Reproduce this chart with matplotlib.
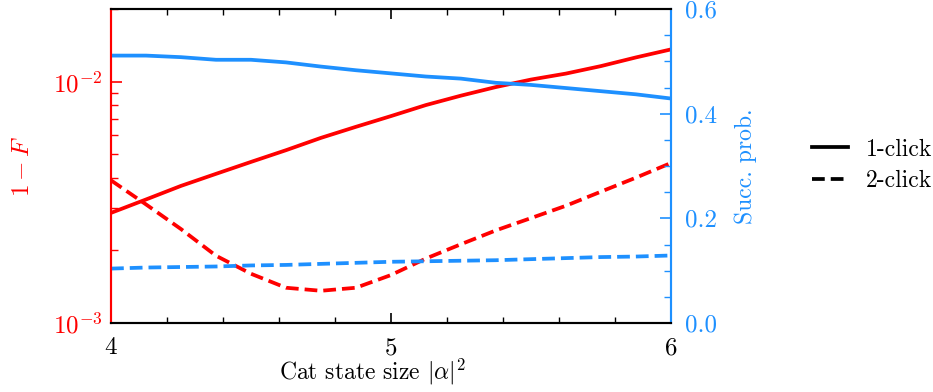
import matplotlib
matplotlib.use('Agg')
import matplotlib.pyplot as plt
from matplotlib.lines import Line2D
from matplotlib.ticker import MultipleLocator, LogLocator, NullFormatter

plt.rcParams['font.family'] = 'serif'
plt.rcParams['font.serif'] = ['cmr10']
plt.rcParams['mathtext.fontset'] = 'cm'
plt.rcParams['axes.unicode_minus'] = False
plt.rcParams['axes.formatter.use_mathtext'] = True

RED = '#ff0000'
BLUE = '#1e90ff'

# Cat state size |alpha|^2
alpha_sq = [4.0, 4.125, 4.25, 4.375, 4.5, 4.625, 4.75, 4.875, 5.0,
            5.125, 5.25, 5.375, 5.5, 5.625, 5.75, 5.875, 6.0]

# infidelity 1-F
infid_1click = [2.86e-3, 3.25e-3, 3.7e-3, 4.15e-3, 4.65e-3, 5.2e-3, 5.85e-3, 6.5e-3, 7.2e-3,
                8.0e-3, 8.75e-3, 9.5e-3, 1.02e-2, 1.08e-2, 1.16e-2, 1.26e-2, 1.36e-2]
infid_2click = [3.9e-3, 3.1e-3, 2.45e-3, 1.9e-3, 1.6e-3, 1.4e-3, 1.36e-3, 1.40e-3, 1.58e-3,
                1.85e-3, 2.12e-3, 2.42e-3, 2.72e-3, 3.06e-3, 3.5e-3, 4.0e-3, 4.6e-3]

# success probability
succ_1click = [0.511, 0.511, 0.508, 0.503, 0.503, 0.498, 0.490, 0.483, 0.477,
               0.471, 0.467, 0.459, 0.455, 0.449, 0.443, 0.437, 0.429]
succ_2click = [0.104, 0.106, 0.107, 0.108, 0.110, 0.111, 0.113, 0.115, 0.117,
               0.118, 0.119, 0.120, 0.122, 0.124, 0.126, 0.127, 0.129]

fig = plt.figure(figsize=(9.33, 3.92), dpi=100)
ax = fig.add_axes([0.119, 0.176, 0.600, 0.801])
ax2 = ax.twinx()

lw = 2.7
dash = (0, (3.4, 1.6))
ax.plot(alpha_sq, infid_1click, color=RED, lw=lw)
ax.plot(alpha_sq, infid_2click, color=RED, lw=lw, ls=dash)
ax2.plot(alpha_sq, succ_1click, color=BLUE, lw=lw)
ax2.plot(alpha_sq, succ_2click, color=BLUE, lw=lw, ls=dash)

ax.set_yscale('log')
ax.set_xlim(4, 6)
ax.set_ylim(1e-3, 2e-2)
ax2.set_ylim(0, 0.6)

ax.xaxis.set_major_locator(MultipleLocator(1))
ax.xaxis.set_minor_locator(MultipleLocator(0.2))
ax.yaxis.set_major_locator(LogLocator(base=10, numticks=10))
ax.yaxis.set_minor_locator(LogLocator(base=10, subs=range(2, 10), numticks=10))
ax.yaxis.set_minor_formatter(NullFormatter())
ax2.yaxis.set_major_locator(MultipleLocator(0.2))
ax2.yaxis.set_minor_locator(MultipleLocator(0.05))
ax2.yaxis.set_major_formatter(plt.FormatStrFormatter('%.1f'))

ax.tick_params(axis='x', which='both', direction='in', top=True, labelsize=18, pad=10)
ax.tick_params(axis='x', which='major', length=7, width=1.2)
ax.tick_params(axis='x', which='minor', length=4, width=1.0)
ax.tick_params(axis='y', which='both', direction='in', colors=RED, labelsize=18, right=False, pad=6)
ax.tick_params(axis='y', which='major', length=8, width=1.2)
ax.tick_params(axis='y', which='minor', length=5, width=1.0)
ax2.tick_params(axis='y', which='both', direction='in', colors=BLUE, labelsize=18, pad=10)
ax2.tick_params(axis='y', which='major', length=8, width=1.2)
ax2.tick_params(axis='y', which='minor', length=5, width=1.0)

for a in (ax, ax2):
    for s in a.spines.values():
        s.set_linewidth(1.5)
ax2.spines['left'].set_color(RED)
ax2.spines['right'].set_color(BLUE)
ax.spines['left'].set_color(RED)
ax.spines['right'].set_color(BLUE)

ax.set_xlabel(r'Cat state size $|\alpha|^2$', fontsize=17)
ax.xaxis.set_label_coords(0.468, -0.108, transform=ax.transAxes)
ax.xaxis.label.set_va('top')
ax.set_ylabel(r'$1-F$', color=RED, fontsize=18, labelpad=14)
ax2.set_ylabel('Succ. prob.', color=BLUE, fontsize=17, labelpad=13)

handles = [Line2D([], [], color='black', lw=lw, label='1-click'),
           Line2D([], [], color='black', lw=lw, ls=dash, label='2-click')]
fig.legend(handles=handles, loc='center left', bbox_to_anchor=(0.848, 0.578),
           frameon=False, fontsize=17, handlelength=1.5, handletextpad=0.75,
           labelspacing=0.4)

fig.savefig('out.png', dpi=100)
